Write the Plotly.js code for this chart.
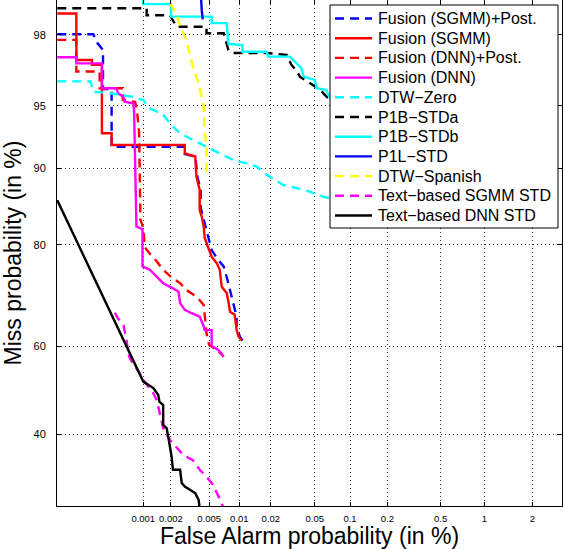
<!DOCTYPE html>
<html>
<head>
<meta charset="utf-8">
<script src="https://cdn.plot.ly/plotly-3.0.1.min.js"></script>
<style>html,body{margin:0;padding:0;background:#fff;}#chart{width:564px;height:549px;}</style>
</head>
<body>
<div id="chart"></div>
<script>
// ---- Data (False alarm %, Miss %) ----
const seriesNames = ["Fusion (SGMM)+Post.", "Fusion (SGMM)", "Fusion (DNN)+Post.", "Fusion (DNN)", "DTW\u2212Zero", "P1B\u2212STDa", "P1B\u2212STDb", "P1L\u2212STD", "DTW\u2212Spanish", "Text\u2212based SGMM STD", "Text\u2212based DNN STD"];

const fusionSgmmPostFA   = [0.0001,0.00027,0.0003,0.00035,0.00035,0.00044,0.00044,0.0028,0.0028,0.0036,0.0038,0.0041,0.0041,0.0044,0.0047,0.0053,0.0062,0.007,0.0075,0.0078,0.0084,0.009,0.0094,0.0094,0.0101,0.0109];
const fusionSgmmPostMiss = [98.02,98.02,97.77,97.54,95.92,95.92,92.04,92.04,91.4,91.15,89.1,87.6,85.4,83.77,82.3,79.1,77.4,76.3,74.4,73.2,70.6,68.5,66.5,64.4,62.2,61.1];

const fusionSgmmFA   = [0.0001,0.00017,0.00017,0.00026,0.00026,0.00034,0.00034,0.00044,0.00044,0.0028,0.0028,0.0036,0.0037,0.004,0.004,0.0042,0.0044,0.0045,0.0049,0.0053,0.006,0.0064,0.0067,0.0075,0.0078,0.0081,0.009,0.0094,0.0098,0.0105];
const fusionSgmmMiss = [98.53,98.53,97.19,97.19,97.0,97.0,93.13,93.13,92.19,92.19,91.46,91.17,89.16,87.66,85.13,84.23,82.8,81.1,79.5,78.0,76.8,75.7,72.5,71.3,69.6,67.5,66.9,63.6,62.2,61.4];

const fusionDnnPostFA   = [0.0001,0.00017,0.00017,0.00032,0.00032,0.00059,0.00059,0.00081,0.00085,0.0009,0.00093,0.001,0.00104,0.00118,0.0014,0.00165,0.002,0.0025,0.0029,0.0037,0.0044,0.0045,0.0047,0.005,0.006,0.007];
const fusionDnnPostMiss = [97.86,97.86,96.73,96.73,95.96,95.96,95.33,95.23,94.74,93.16,83.77,82.6,79.6,78.5,77.2,75.7,74.4,73.2,71.9,70.6,68.9,66.5,62.9,60.3,59.2,57.7];

const fusionDnnFA   = [0.0001,0.00017,0.00017,0.00034,0.00034,0.0005,0.00052,0.0006,0.00062,0.00077,0.00079,0.00084,0.00098,0.00098,0.00118,0.0014,0.00165,0.0021,0.0024,0.0025,0.0028,0.0033,0.004,0.0044,0.0045,0.0053,0.0053,0.0062,0.007];
const fusionDnnMiss = [97.29,97.29,97.06,97.06,95.96,95.96,95.70,95.51,95.23,95.14,94.74,82.8,82.4,76.3,75.7,74.4,73.2,72.2,71.6,69.3,67.9,67.2,66.5,64.4,63.6,63.6,60.1,59.2,57.7];

const dtwZeroFA   = [0.0001,0.00025,0.00027,0.00042,0.00077,0.001,0.00118,0.00165,0.0021,0.0025,0.0034,0.0047,0.0064,0.0087,0.0118,0.0147,0.0183,0.026,0.035,0.045,0.059,0.068,0.1];
const dtwZeroMiss = [96.29,96.29,95.78,95.70,95.51,95.33,94.85,94.43,93.63,93.13,92.6,92.04,91.46,90.84,90.52,90.2,89.35,88.24,87.86,87.46,86.84,86.65,86.0];

const p1bStdaFA   = [0.0001,0.00109,0.00109,0.00195,0.0023,0.0047,0.0047,0.007,0.0078,0.0087,0.0183,0.028,0.031,0.035,0.037,0.045,0.056,0.064,0.09];
const p1bStdaMiss = [98.64,98.64,98.49,98.49,98.22,98.22,98.05,98.05,97.54,97.44,97.44,97.37,97.0,96.71,96.5,96.2,95.87,95.48,95.0];

const p1bStdbFA   = [0.001,0.001,0.002,0.002,0.0053,0.0053,0.0075,0.0078,0.0107,0.0107,0.0183,0.0189,0.030,0.033,0.038,0.040,0.05,0.052,0.063,0.068,0.09];
const p1bStdbMiss = [99.2,98.72,98.72,98.46,98.46,98.31,98.31,97.74,97.70,97.48,97.48,97.31,97.31,97.13,96.87,96.5,96.36,95.96,95.87,95.43,95.0];

const p1lStdFA   = [0.0040,0.0041,0.0042,0.0043];
const p1lStdMiss = [99.2,98.8,98.6,98.4];

const dtwSpanishFA   = [0.0019,0.002,0.0023,0.0025,0.0029,0.0034,0.0039,0.0044,0.0045,0.0047,0.0047];
const dtwSpanishMiss = [99.2,98.7,98.5,98.22,97.86,96.93,96.2,94.95,93.4,91.8,89.2];

const textSgmmFA   = [0.00048,0.00052,0.0006,0.00062,0.00065,0.00068,0.00071,0.00097,0.001,0.00129,0.0014,0.00146,0.00165,0.00195,0.0023,0.0027,0.0034,0.004,0.0047,0.0055,0.006,0.0064,0.007];
const textSgmmMiss = [67.3,66.1,64.7,63.3,61.4,58.5,57.3,53.1,52.4,49.3,47.8,46.2,41.3,38.7,36.9,35.4,34.3,32.3,30.9,29.2,27.6,26.3,24.8];

const textDnnFA   = [0.0001,0.00096,0.001,0.00129,0.00146,0.0015,0.00165,0.00165,0.0018,0.00187,0.00203,0.0021,0.0025,0.0026,0.0028,0.0032,0.0036,0.0039,0.004];
const textDnnMiss = [86.4,52.4,52.0,50.5,48.9,47.4,46.6,42.1,41.3,39.4,35.1,32.3,32.3,29.6,28.9,28.2,27.6,26.3,24.8];

const xTickLabels = ["0.001","0.002","0.005","0.01","0.02","0.05","0.1","0.2","0.5","1","2"];
const yTickLabels = ["40","60","80","90","95","98"];

// ---- Normal deviate (probit) scale ----
function probit(p){
  const a=[-3.969683028665376e+01,2.209460984245205e+02,-2.759285104469687e+02,1.383577518672690e+02,-3.066479806614716e+01,2.506628277459239e+00];
  const b=[-5.447609879822406e+01,1.615858368580409e+02,-1.556989798598866e+02,6.680131188771972e+01,-1.328068155288572e+01];
  const c=[-7.784894002430293e-03,-3.223964580411365e-01,-2.400758277161838e+00,-2.549732539343734e+00,4.374664141464968e+00,2.938163982698783e+00];
  const d=[7.784695709041462e-03,3.224671290700398e-01,2.445134137142996e+00,3.754408661907416e+00];
  const pl=0.02425, ph=1-pl; let q,r;
  if(p<pl){q=Math.sqrt(-2*Math.log(p));return (((((c[0]*q+c[1])*q+c[2])*q+c[3])*q+c[4])*q+c[5])/((((d[0]*q+d[1])*q+d[2])*q+d[3])*q+1);}
  if(p<=ph){q=p-0.5;r=q*q;return (((((a[0]*r+a[1])*r+a[2])*r+a[3])*r+a[4])*r+a[5])*q/(((((b[0]*r+b[1])*r+b[2])*r+b[3])*r+b[4])*r+1);}
  q=Math.sqrt(-2*Math.log(1-p));return -(((((c[0]*q+c[1])*q+c[2])*q+c[3])*q+c[4])*q+c[5])/((((d[0]*q+d[1])*q+d[2])*q+d[3])*q+1);
}
const pz = v => probit(v/100);

const seriesData = [
  [fusionSgmmPostFA, fusionSgmmPostMiss, "#0000ff", "dash"],
  [fusionSgmmFA, fusionSgmmMiss, "#ff0000", "solid"],
  [fusionDnnPostFA, fusionDnnPostMiss, "#ff0000", "dash"],
  [fusionDnnFA, fusionDnnMiss, "#ff00ff", "solid"],
  [dtwZeroFA, dtwZeroMiss, "#00ffff", "dash"],
  [p1bStdaFA, p1bStdaMiss, "#000000", "dash"],
  [p1bStdbFA, p1bStdbMiss, "#00ffff", "solid"],
  [p1lStdFA, p1lStdMiss, "#0000ff", "solid"],
  [dtwSpanishFA, dtwSpanishMiss, "#ffff00", "dash"],
  [textSgmmFA, textSgmmMiss, "#ff00ff", "dash"],
  [textDnnFA, textDnnMiss, "#000000", "solid"]
];
const DASH = "9px,6px";

const traces = seriesData.map((s,i)=>({
  type:"scatter", mode:"lines", name: seriesNames[i], showlegend:false,
  x: s[0].map(pz), y: s[1].map(pz),
  line:{color:s[2], width:2.4, dash: s[3]==="dash" ? DASH : "solid"},
  hoverinfo:"skip"
}));

// ---- Legend box (drawn in paper space, Matlab style) ----
const M = {l:57, r:2, t:0, b:43};
const PW = 564 - M.l - M.r, PH = 549 - M.t - M.b;
const px2x = p => (p - M.l)/PW;
const px2y = p => 1 - (p - M.t)/PH;
const shapes = [{type:"rect", xref:"paper", yref:"paper", layer:"above",
  x0:px2x(330), x1:px2x(558), y0:px2y(5), y1:px2y(228),
  fillcolor:"#fff", line:{color:"#000", width:1}}];
const annotations = [];
const font = "Liberation Sans, Arial, Helvetica, sans-serif";
seriesNames.forEach((nm,i)=>{
  const yy = 18.5 + 19.7*i;
  shapes.push({type:"line", xref:"paper", yref:"paper", layer:"above",
    x0:px2x(335), x1:px2x(372), y0:px2y(yy), y1:px2y(yy),
    line:{color:seriesData[i][2], width:2.4, dash: seriesData[i][3]==="dash" ? DASH : "solid"}});
  annotations.push({xref:"paper", yref:"paper", x:px2x(376), y:px2y(yy), xanchor:"left", yanchor:"middle",
    text:nm, showarrow:false, font:{size:16, family:font, color:"#000"}});
});

const layout = {
  width:564, height:549,
  margin:M,
  paper_bgcolor:"#fff", plot_bgcolor:"#fff",
  font:{family:font, color:"#000"},
  showlegend:false,
  shapes: shapes, annotations: annotations,
  xaxis:{
    range:[-4.755,-1.886], tickvals: xTickLabels.map(t=>pz(parseFloat(t))), ticktext:xTickLabels,
    tickfont:{size:9.5}, showgrid:true, gridcolor:"#333", griddash:"1px,3px", gridwidth:1,
    showline:true, linecolor:"#000", linewidth:1, mirror:"ticks", ticks:"inside", ticklen:4, tickcolor:"#000",
    zeroline:false, ticklabelstandoff:4,
    title:{text:"False Alarm probability (in %)", font:{size:23}, standoff:0}
  },
  yaxis:{
    range:[-0.669,2.256], tickvals: yTickLabels.map(t=>pz(parseFloat(t))), ticktext:yTickLabels,
    tickfont:{size:11}, showgrid:true, gridcolor:"#333", griddash:"1px,3px", gridwidth:1,
    showline:true, linecolor:"#000", linewidth:1, mirror:"ticks", ticks:"inside", ticklen:4, tickcolor:"#000",
    zeroline:false, ticklabelstandoff:8,
    title:{text:"Miss probability (in %)", font:{size:23}, standoff:14}
  },
  hovermode:false
};
Plotly.newPlot("chart", traces, layout, {staticPlot:true, displayModeBar:false});
</script>
</body>
</html>
